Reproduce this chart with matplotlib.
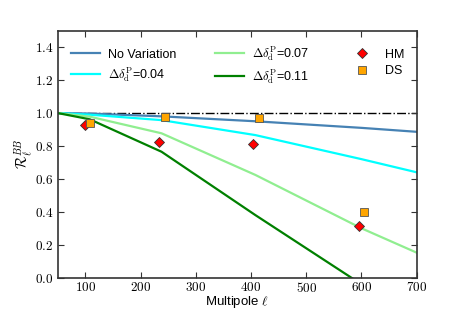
import matplotlib
matplotlib.use("Agg")
import matplotlib.pyplot as plt
from matplotlib.ticker import FuncFormatter

plt.rcParams['mathtext.fontset'] = 'cm'
plt.rcParams['font.family'] = ['Liberation Sans', 'DejaVu Sans']

# ---- data ----
ell = [50, 108, 238, 408, 600, 700]
no_var = [1.0, 0.997, 0.98, 0.95, 0.91, 0.886]
dd_004 = [1.0, 0.99, 0.957, 0.866, 0.72, 0.64]
dd_007 = [1.0, 0.978, 0.877, 0.624, 0.30, 0.152]
dd_011 = [1.0, 0.962, 0.765, 0.38, -0.04, -0.26]

hm_ell = [100, 234, 404, 595]
hm_val = [0.927, 0.826, 0.81, 0.314]
ds_ell = [109, 244, 415, 605]
ds_val = [0.937, 0.974, 0.971, 0.397]

fig = plt.figure(figsize=(4.63, 3.09), dpi=100)
ax = fig.add_axes([0.1246, 0.1013, 0.7754, 0.7993])

ax.axhline(1.0, color='k', ls='-.', lw=1.0, zorder=1)
ax.plot(ell, no_var, color='#4682b4', lw=1.6, label='No Variation')
ax.plot(ell, dd_004, color='cyan', lw=1.6, label=r'$\Delta\delta_{\rm d}^{\rm P}$=0.04')
ax.plot(ell, dd_007, color='#90ee90', lw=1.6, label=r'$\Delta\delta_{\rm d}^{\rm P}$=0.07')
ax.plot(ell, dd_011, color='green', lw=1.6, label=r'$\Delta\delta_{\rm d}^{\rm P}$=0.11')
ax.plot(hm_ell, hm_val, 'D', color='red', mec='#333333', mew=0.6, ms=4.7, ls='none',
        label='HM', zorder=5)
ax.plot(ds_ell, ds_val, 's', color='orange', mec='#555555', mew=0.6, ms=5.5, ls='none',
        label='DS', zorder=5)

ax.set_xlim(50, 700)
ax.set_ylim(0, 1.5)
ax.set_xticks([100, 200, 300, 400, 500, 600, 700])
ax.set_yticks([0.0, 0.2, 0.4, 0.6, 0.8, 1.0, 1.2, 1.4])
ax.xaxis.set_major_formatter(FuncFormatter(lambda v, p: r'$%d$' % v))
ax.yaxis.set_major_formatter(FuncFormatter(lambda v, p: r'$%.1f$' % v))
ax.tick_params(direction='in', top=True, right=True, length=4, width=0.8,
               labelsize=9.5, pad=3, color='#333333')
ax.tick_params(axis='x', pad=2.5)
for s in ax.spines.values():
    s.set_linewidth(1.2)
    s.set_color('#333333')

ax.set_xlabel(r'Multipole $\ell$', fontsize=9.5, labelpad=-1)
ax.set_ylabel(r'$\mathcal{R}_\ell^{BB}$', fontsize=10.5, labelpad=0)

ax.legend(loc='upper left', ncol=3, frameon=False, numpoints=1, fontsize=9,
          handlelength=2.3, handletextpad=0.65, columnspacing=3.1, labelspacing=0.35,
          borderaxespad=0.65)

fig.savefig('out.png', dpi=100)
